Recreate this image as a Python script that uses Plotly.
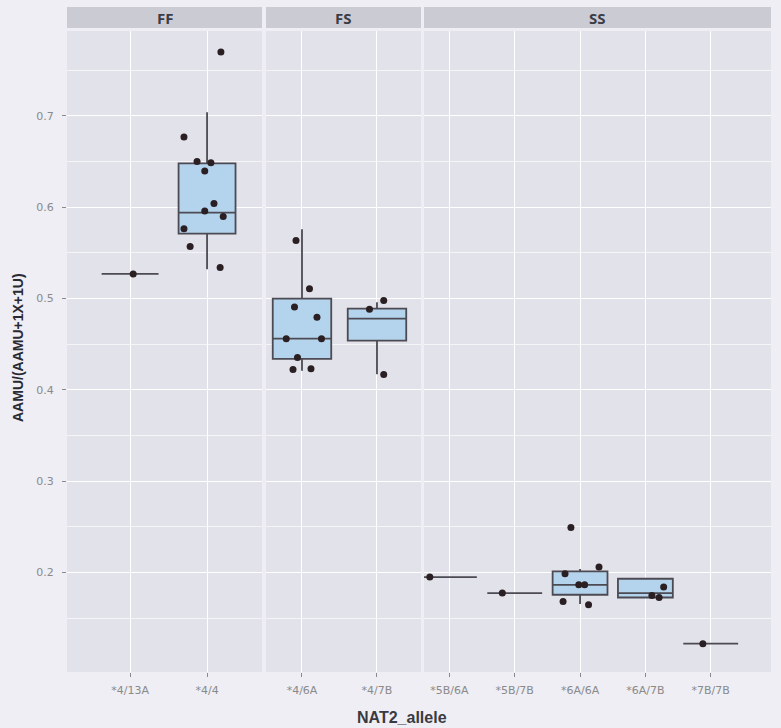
import plotly.graph_objects as go

# ---------------- data ----------------
facets = ["FF", "FS", "SS"]

ff_categories = ["*4/13A", "*4/4"]
fs_categories = ["*4/6A", "*4/7B"]
ss_categories = ["*5B/6A", "*5B/7B", "*6A/6A", "*6A/7B", "*7B/7B"]

# box statistics per category
ff_q1 = [0.527, 0.571]
ff_median = [0.527, 0.594]
ff_q3 = [0.527, 0.648]
ff_lower = [0.527, 0.532]
ff_upper = [0.527, 0.704]

fs_q1 = [0.434, 0.454]
fs_median = [0.456, 0.478]
fs_q3 = [0.500, 0.489]
fs_lower = [0.421, 0.417]
fs_upper = [0.576, 0.496]

ss_q1 = [0.195, 0.1774, 0.1756, 0.1726, 0.122]
ss_median = [0.195, 0.1774, 0.1865, 0.1774, 0.122]
ss_q3 = [0.195, 0.1774, 0.2011, 0.1931, 0.122]
ss_lower = [0.195, 0.1774, 0.1654, 0.1726, 0.122]
ss_upper = [0.195, 0.1774, 0.2037, 0.1931, 0.122]

# jittered observations: category, value, horizontal jitter (as read)
ff_pt_cat = ["*4/13A", "*4/4", "*4/4", "*4/4", "*4/4", "*4/4", "*4/4",
             "*4/4", "*4/4", "*4/4", "*4/4", "*4/4"]
ff_pt_val = [0.527, 0.770, 0.677, 0.650, 0.6486, 0.6398, 0.604, 0.596,
             0.5898, 0.5763, 0.557, 0.534]
ff_pt_jit = [0.04, 0.18, -0.30, -0.13, 0.05, -0.03, 0.09, -0.03,
             0.21, -0.30, -0.22, 0.17]

fs_pt_cat = ["*4/6A"] * 9 + ["*4/7B"] * 3
fs_pt_val = [0.5635, 0.5106, 0.4906, 0.4796, 0.4559, 0.4559, 0.4354,
             0.4222, 0.4230, 0.4978, 0.4884, 0.4168]
fs_pt_jit = [-0.08, 0.10, -0.10, 0.20, -0.21, 0.26, -0.06, -0.12, 0.12,
             0.09, -0.10, 0.09]

ss_pt_cat = ["*5B/6A", "*5B/7B", "*6A/6A", "*6A/6A", "*6A/6A", "*6A/6A",
             "*6A/6A", "*6A/6A", "*6A/6A", "*6A/7B", "*6A/7B", "*6A/7B",
             "*7B/7B"]
ss_pt_val = [0.195, 0.1774, 0.2493, 0.2059, 0.1986, 0.1865, 0.1865,
             0.1683, 0.1646, 0.184, 0.1748, 0.1726, 0.122]
ss_pt_jit = [-0.30, -0.19, -0.14, 0.29, -0.23, -0.02, 0.07, -0.26, 0.13,
             0.28, 0.10, 0.21, -0.12]

y_ticks = [0.2, 0.3, 0.4, 0.5, 0.6, 0.7]
y_tick_labels = ["0.2", "0.3", "0.4", "0.5", "0.6", "0.7"]
y_minor = [0.15, 0.25, 0.35, 0.45, 0.55, 0.65, 0.75]

x_title = "NAT2_allele"
y_title = "AAMU/(AAMU+1X+1U)"

# ---------------- styling ----------------
PAPER = "#eeeef4"
PANEL = "#e2e2ea"
STRIP = "#cbcbd4"
BOXFILL = "#b4d4ee"
BOXLINE = "#4c4a52"
POINT = "#2a1f22"
TICKCOL = "#8a8a8a"

W, H = 781, 728
ML, MR, MT, MB = 67, 10, 31, 56
PW = W - ML - MR
PH = H - MT - MB

def px_dom(a, b):
    return [(a - ML) / PW, (b - ML) / PW]

panels = [
    dict(cats=ff_categories, q1=ff_q1, med=ff_median, q3=ff_q3, lo=ff_lower,
         hi=ff_upper, pc=ff_pt_cat, pv=ff_pt_val, pj=ff_pt_jit,
         dom=px_dom(67, 262), rng=[0.18, 2.714], bw=0.74),
    dict(cats=fs_categories, q1=fs_q1, med=fs_median, q3=fs_q3, lo=fs_lower,
         hi=fs_upper, pc=fs_pt_cat, pv=fs_pt_val, pj=fs_pt_jit,
         dom=px_dom(266, 421), rng=[0.52, 2.587], bw=0.78),
    dict(cats=ss_categories, q1=ss_q1, med=ss_median, q3=ss_q3, lo=ss_lower,
         hi=ss_upper, pc=ss_pt_cat, pv=ss_pt_val, pj=ss_pt_jit,
         dom=px_dom(424, 771), rng=[0.611, 5.923], bw=0.84),
]

y_range = [0.091, 0.793]

fig = go.Figure()
layout_axes = {}
shapes = []
annotations = []

for i, p in enumerate(panels):
    n = i + 1
    xa = "x" if n == 1 else f"x{n}"
    ya = "y" if n == 1 else f"y{n}"
    pos = {c: k + 1 for k, c in enumerate(p["cats"])}
    xs = [pos[c] for c in p["cats"]]
    fig.add_trace(go.Box(
        x=xs, q1=p["q1"], median=p["med"], q3=p["q3"],
        lowerfence=p["lo"], upperfence=p["hi"],
        width=p["bw"], whiskerwidth=0, boxpoints=False,
        fillcolor=BOXFILL, line=dict(color=BOXLINE, width=1.8),
        xaxis=xa, yaxis=ya, showlegend=False, hoverinfo="skip"))
    fig.add_trace(go.Scatter(
        x=[pos[c] + j for c, j in zip(p["pc"], p["pj"])], y=p["pv"],
        mode="markers", marker=dict(color=POINT, size=7),
        xaxis=xa, yaxis=ya, showlegend=False, hoverinfo="skip"))

    xkey = "xaxis" if n == 1 else f"xaxis{n}"
    ykey = "yaxis" if n == 1 else f"yaxis{n}"
    layout_axes[xkey] = dict(
        domain=p["dom"], range=p["rng"], anchor=ya,
        tickvals=xs, ticktext=p["cats"], showgrid=True,
        gridcolor="white", gridwidth=1.3, zeroline=False,
        ticks="outside", ticklen=4, tickcolor=TICKCOL, tickwidth=1,
        tickfont=dict(family="DejaVu Sans", size=11, color=TICKCOL),
        ticklabelstandoff=4, showline=False, fixedrange=True)
    layout_axes[ykey] = dict(
        domain=[0, 1], range=y_range, anchor=xa,
        tickvals=y_ticks, ticktext=y_tick_labels,
        showticklabels=(n == 1), ticks="outside" if n == 1 else "",
        ticklen=4, tickcolor=TICKCOL, tickwidth=1,
        tickfont=dict(family="DejaVu Sans", size=11, color=TICKCOL),
        ticklabelstandoff=6,
        showgrid=True, gridcolor="white", gridwidth=1.3, zeroline=False,
        minor=dict(tickvals=y_minor, showgrid=True,
                   gridcolor="rgba(255,255,255,0.65)", gridwidth=0.7,
                   ticks=""),
        showline=False, fixedrange=True)

    # facet strip
    shapes.append(dict(type="rect", xref=f"{xa} domain", yref="paper",
                       x0=0, x1=1, y0=1 + 3 / PH, y1=1 + 24 / PH,
                       fillcolor=STRIP, line=dict(width=0), layer="below"))
    annotations.append(dict(text=f"<b>{facets[i]}</b>", xref=f"{xa} domain",
                            yref="paper", x=0.5, y=1 + 13.5 / PH,
                            showarrow=False, xanchor="center",
                            yanchor="middle",
                            font=dict(family="Open Sans", size=15,
                                      color="#3c3c44")))

annotations.append(dict(text=f"<b>{x_title}</b>", xref="paper", yref="paper",
                        x=(402 - ML) / PW, y=-(717 - (MT + PH)) / PH,
                        showarrow=False, xanchor="center", yanchor="middle",
                        font=dict(family="Liberation Sans", size=16,
                                  color="#3a3a42")))
annotations.append(dict(text=f"<b>{y_title}</b>", xref="paper", yref="paper",
                        x=(18 - ML) / PW, y=((MT + PH) - 348) / PH,
                        textangle=-90, showarrow=False, xanchor="center",
                        yanchor="middle",
                        font=dict(family="Liberation Sans", size=14,
                                  color="#2a2a32")))

fig.update_layout(
    width=W, height=H,
    margin=dict(l=ML, r=MR, t=MT, b=MB),
    paper_bgcolor=PAPER, plot_bgcolor=PANEL,
    shapes=shapes, annotations=annotations,
    showlegend=False,
    **layout_axes,
)

fig.write_html("out.html")
